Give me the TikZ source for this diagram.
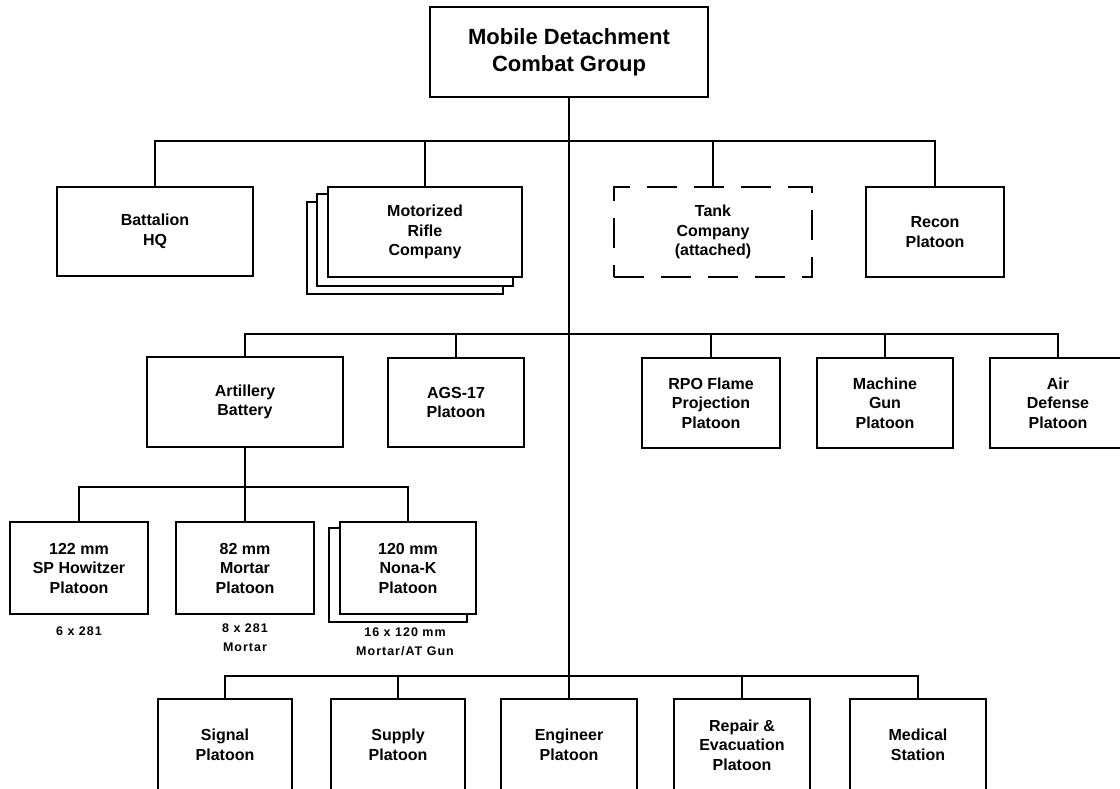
\documentclass[tikz,border=0pt]{standalone}
\usepackage{fontspec}
\setmainfont{Liberation Sans}
\newfontfamily\notefont[LetterSpace=8]{Liberation Sans}
\usetikzlibrary{backgrounds}

\tikzset{
  unit/.style={draw, line width=1.8pt, fill=white, align=center, inner sep=0pt,
    font=\fontsize{16}{19.5}\selectfont\bfseries},
  sheet/.style={draw, line width=1.8pt, fill=white},
  link/.style={line width=1.6pt},
  note/.style={align=center, inner sep=0pt, font=\notefont\fontsize{12.5}{19}\selectfont\bfseries}
}

\begin{document}
\begin{tikzpicture}[x=1pt, y=-1pt]
  \useasboundingbox (0,0) rectangle (1120,789);

  % command
  \node[unit, minimum width=278pt, minimum height=90pt, font=\fontsize{22}{27}\selectfont\bfseries] (top) at (569,52) {Mobile Detachment\\Combat Group};

  % first row
  \node[unit, minimum width=196pt, minimum height=89pt] (bat) at (155,231.5) {Battalion\\HQ};
  \node[unit, minimum width=194pt, minimum height=90pt] (mrc) at (425,232) {Motorized\\Rifle\\Company};
  \node[unit, minimum width=198pt, minimum height=90pt, dash pattern=on 30pt off 17pt] (tank) at (713,232) {Tank\\Company\\(attached)};
  \node[unit, minimum width=138pt, minimum height=90pt] (recon) at (935,232) {Recon\\Platoon};

  % second row
  \node[unit, minimum width=196pt, minimum height=90pt] (art) at (245,402) {Artillery\\Battery};
  \node[unit, minimum width=136pt, minimum height=89pt] (ags) at (456,402.5) {AGS-17\\Platoon};
  \node[unit, minimum width=138pt, minimum height=90pt] (rpo) at (711,403) {RPO Flame\\Projection\\Platoon};
  \node[unit, minimum width=136pt, minimum height=90pt] (mg) at (885,403) {Machine\\Gun\\Platoon};
  \node[unit, minimum width=136pt, minimum height=90pt] (ad) at (1058,403) {Air\\Defense\\Platoon};

  % artillery platoons
  \node[unit, minimum width=138pt, minimum height=92pt] (how) at (79,568) {122 mm\\SP Howitzer\\Platoon};
  \node[unit, minimum width=138pt, minimum height=92pt] (mor) at (245,568) {82 mm\\Mortar\\Platoon};
  \node[unit, minimum width=136pt, minimum height=92pt] (nona) at (408,568) {120 mm\\Nona-K\\Platoon};
  \node[note] (howx) at (79,631) {6 x 281};
  \node[note] (morx) at (245,638) {8 x 281\\Mortar};
  \node[note] (nonax) at (405,641.5) {16 x 120 mm\\Mortar/AT Gun};

  % support row
  \node[unit, minimum width=134pt, minimum height=92pt] (sig) at (225,745) {Signal\\Platoon};
  \node[unit, minimum width=134pt, minimum height=92pt] (sup) at (398,745) {Supply\\Platoon};
  \node[unit, minimum width=136pt, minimum height=92pt] (eng) at (569,745) {Engineer\\Platoon};
  \node[unit, minimum width=136pt, minimum height=92pt] (rep) at (742,745) {Repair \&\\Evacuation\\Platoon};
  \node[unit, minimum width=136pt, minimum height=92pt] (med) at (918,745) {Medical\\Station};

  % stacked sheets behind the companies
  \begin{scope}[on background layer]
    \draw[sheet] ([shift={(-20,16)}]mrc.north west) rectangle ([shift={(-20,16)}]mrc.south east);
    \draw[sheet] ([shift={(-10,8)}]mrc.north west) rectangle ([shift={(-10,8)}]mrc.south east);
    \draw[sheet] ([shift={(-10,7)}]nona.north west) rectangle ([shift={(-10,7)}]nona.south east);
  \end{scope}

  % junctions
  \coordinate (j1) at (569,141);
  \coordinate (j2) at (569,334);
  \coordinate (j3) at (569,676);
  \coordinate (j4) at (245,487);

  \draw[link] (top.south) -- (eng.north);

  \draw[link] (bat.north) |- (j1) -| (recon.north);
  \draw[link] (mrc.north) -- (mrc.north |- j1);
  \draw[link] (tank.north) -- (tank.north |- j1);

  \draw[link] (art.north) |- (j2) -| (ad.north);
  \draw[link] (ags.north) -- (ags.north |- j2);
  \draw[link] (rpo.north) -- (rpo.north |- j2);
  \draw[link] (mg.north) -- (mg.north |- j2);

  \draw[link] (art.south) -- (j4);
  \draw[link] (how.north) |- (j4) -| (nona.north);
  \draw[link] (mor.north) -- (mor.north |- j4);

  \draw[link] (sig.north) |- (j3) -| (med.north);
  \draw[link] (sup.north) -- (sup.north |- j3);
  \draw[link] (rep.north) -- (rep.north |- j3);
\end{tikzpicture}
\end{document}
